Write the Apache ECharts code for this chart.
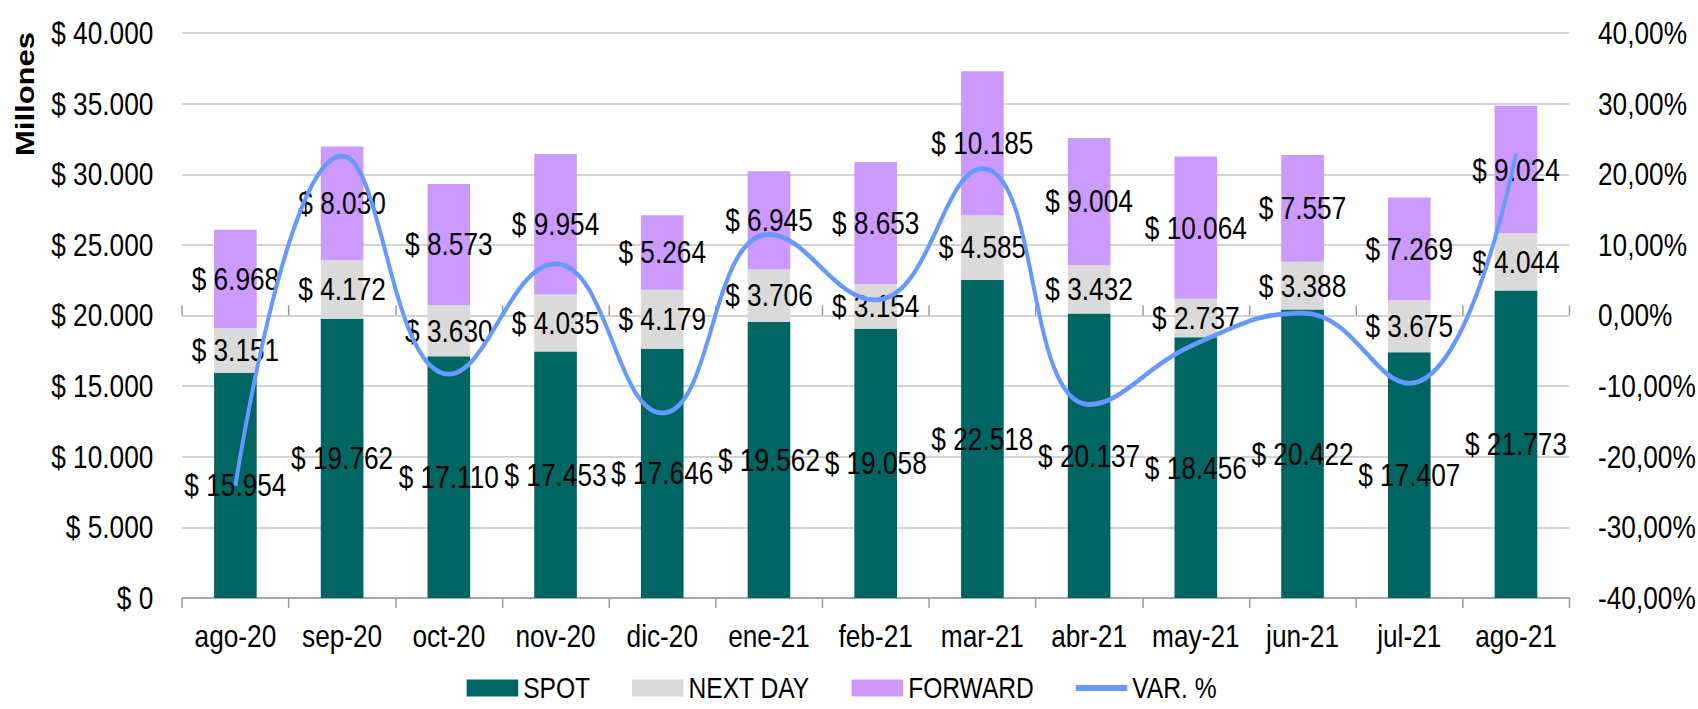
<!DOCTYPE html>
<html>
<head>
<meta charset="utf-8">
<script src="https://cdn.jsdelivr.net/npm/echarts@6/dist/echarts.min.js"></script>
<style>
  html, body { margin: 0; padding: 0; background: #fff; overflow: hidden; width: 1698px; height: 709px; }
  /* Drawn wide, then condensed horizontally to get a narrow typeface look */
  #chart { width: 2071px; height: 709px; transform: scaleX(0.82); transform-origin: 0 0; }
</style>
</head>
<body>
<div id="chart"></div>
<script>
// Monthly traded volume (millions) by operation type, plus month-over-month variation
const months = ['ago-20', 'sep-20', 'oct-20', 'nov-20', 'dic-20', 'ene-21', 'feb-21', 'mar-21', 'abr-21', 'may-21', 'jun-21', 'jul-21', 'ago-21'];
const spot = [15954, 19762, 17110, 17453, 17646, 19562, 19058, 22518, 20137, 18456, 20422, 17407, 21773];
const nextDay = [3151, 4172, 3630, 4035, 4179, 3706, 3154, 4585, 3432, 2737, 3388, 3675, 4044];
const forward = [6968, 8030, 8573, 9954, 5264, 6945, 8653, 10185, 9004, 10064, 7557, 7269, 9024];
const varPct = [-24.1, 22.6, -8.3, 7.3, -13.8, 11.5, 2.2, 20.8, -12.6, -4.0, 0.35, -9.6, 22.9];

const FONT = "'Liberation Sans', Arial, sans-serif";
const AXIS_GRAY = '#9a9a9a';

function money(v) {
  return '$ ' + Math.round(v).toString().replace(/\B(?=(\d{3})+(?!\d))/g, '.');
}
function pct(v) {
  return v.toFixed(2).replace('.', ',') + '%';
}

const barLabel = {
  show: true,
  position: 'inside',
  color: '#000',
  fontSize: 32,
  fontFamily: FONT,
  formatter: p => money(p.value)
};

const chart = echarts.init(document.getElementById('chart'), null, { renderer: 'svg' });
chart.setOption({
  animation: false,
  backgroundColor: '#fff',
  textStyle: { fontFamily: FONT },
  grid: { left: 222, right: 157, top: 33, bottom: 111, containLabel: false },
  legend: {
    left: 569,
    top: 673,
    padding: 0,
    itemWidth: 63,
    itemHeight: 17,
    itemGap: 51,
    symbolKeepAspect: true,
    textStyle: { fontSize: 30, lineHeight: 30, color: '#000', fontFamily: FONT, padding: [0, 0, 0, 1] },
    data: [
      { name: 'SPOT', icon: 'rect' },
      { name: 'NEXT DAY', icon: 'rect' },
      { name: 'FORWARD', icon: 'rect' },
      { name: 'VAR. %', icon: 'path://M0,0 L63,0 L63,6 L0,6 Z' }
    ]
  },
  graphic: [{
    type: 'text',
    x: 31,
    y: 94,
    rotation: Math.PI / 2,
    style: {
      text: 'Millones',
      font: 'bold 31px ' + FONT,
      fill: '#000',
      textAlign: 'center',
      textVerticalAlign: 'middle'
    }
  }],
  xAxis: [{
    type: 'category',
    data: months,
    position: 'bottom',
    axisLine: { lineStyle: { color: AXIS_GRAY, width: 1.5 } },
    axisTick: { show: true, length: 10, lineStyle: { color: AXIS_GRAY, width: 1.8 } },
    axisLabel: { interval: 0, fontSize: 32, color: '#000', margin: 22, fontFamily: FONT }
  }, {
    type: 'category',
    data: months,
    position: 'bottom',
    axisLine: { show: false },
    axisTick: { show: true, inside: true, length: 10, lineStyle: { color: AXIS_GRAY, width: 1.8 } },
    axisLabel: { show: false }
  }],
  yAxis: [{
    type: 'value',
    min: 0,
    max: 40000,
    interval: 5000,
    axisLine: { show: false },
    axisTick: { show: false },
    splitLine: { lineStyle: { color: '#c4c4c4', width: 1.5 } },
    axisLabel: { fontSize: 32, color: '#000', margin: 35, fontFamily: FONT, formatter: v => money(v) }
  }, {
    type: 'value',
    min: -40,
    max: 40,
    interval: 10,
    position: 'right',
    axisLine: { show: false },
    axisTick: { show: false },
    splitLine: { show: false },
    axisLabel: { fontSize: 32, color: '#000', margin: 35, fontFamily: FONT, formatter: v => pct(v) }
  }],
  series: [{
    name: 'SPOT',
    type: 'bar',
    stack: 'vol',
    barWidth: 52,
    data: spot,
    itemStyle: { color: '#006663' },
    label: barLabel
  }, {
    name: 'NEXT DAY',
    type: 'bar',
    stack: 'vol',
    barWidth: 52,
    data: nextDay,
    itemStyle: { color: '#dadada' },
    label: barLabel
  }, {
    name: 'FORWARD',
    type: 'bar',
    stack: 'vol',
    barWidth: 52,
    data: forward,
    itemStyle: { color: '#cc99ff' },
    label: barLabel
  }, {
    name: 'VAR. %',
    type: 'line',
    yAxisIndex: 1,
    data: varPct,
    smooth: 0.45,
    symbol: 'none',
    lineStyle: { color: '#6699ff', width: 4.8 },
    itemStyle: { color: '#6699ff' },
    z: 3
  }]
});
</script>
</body>
</html>
